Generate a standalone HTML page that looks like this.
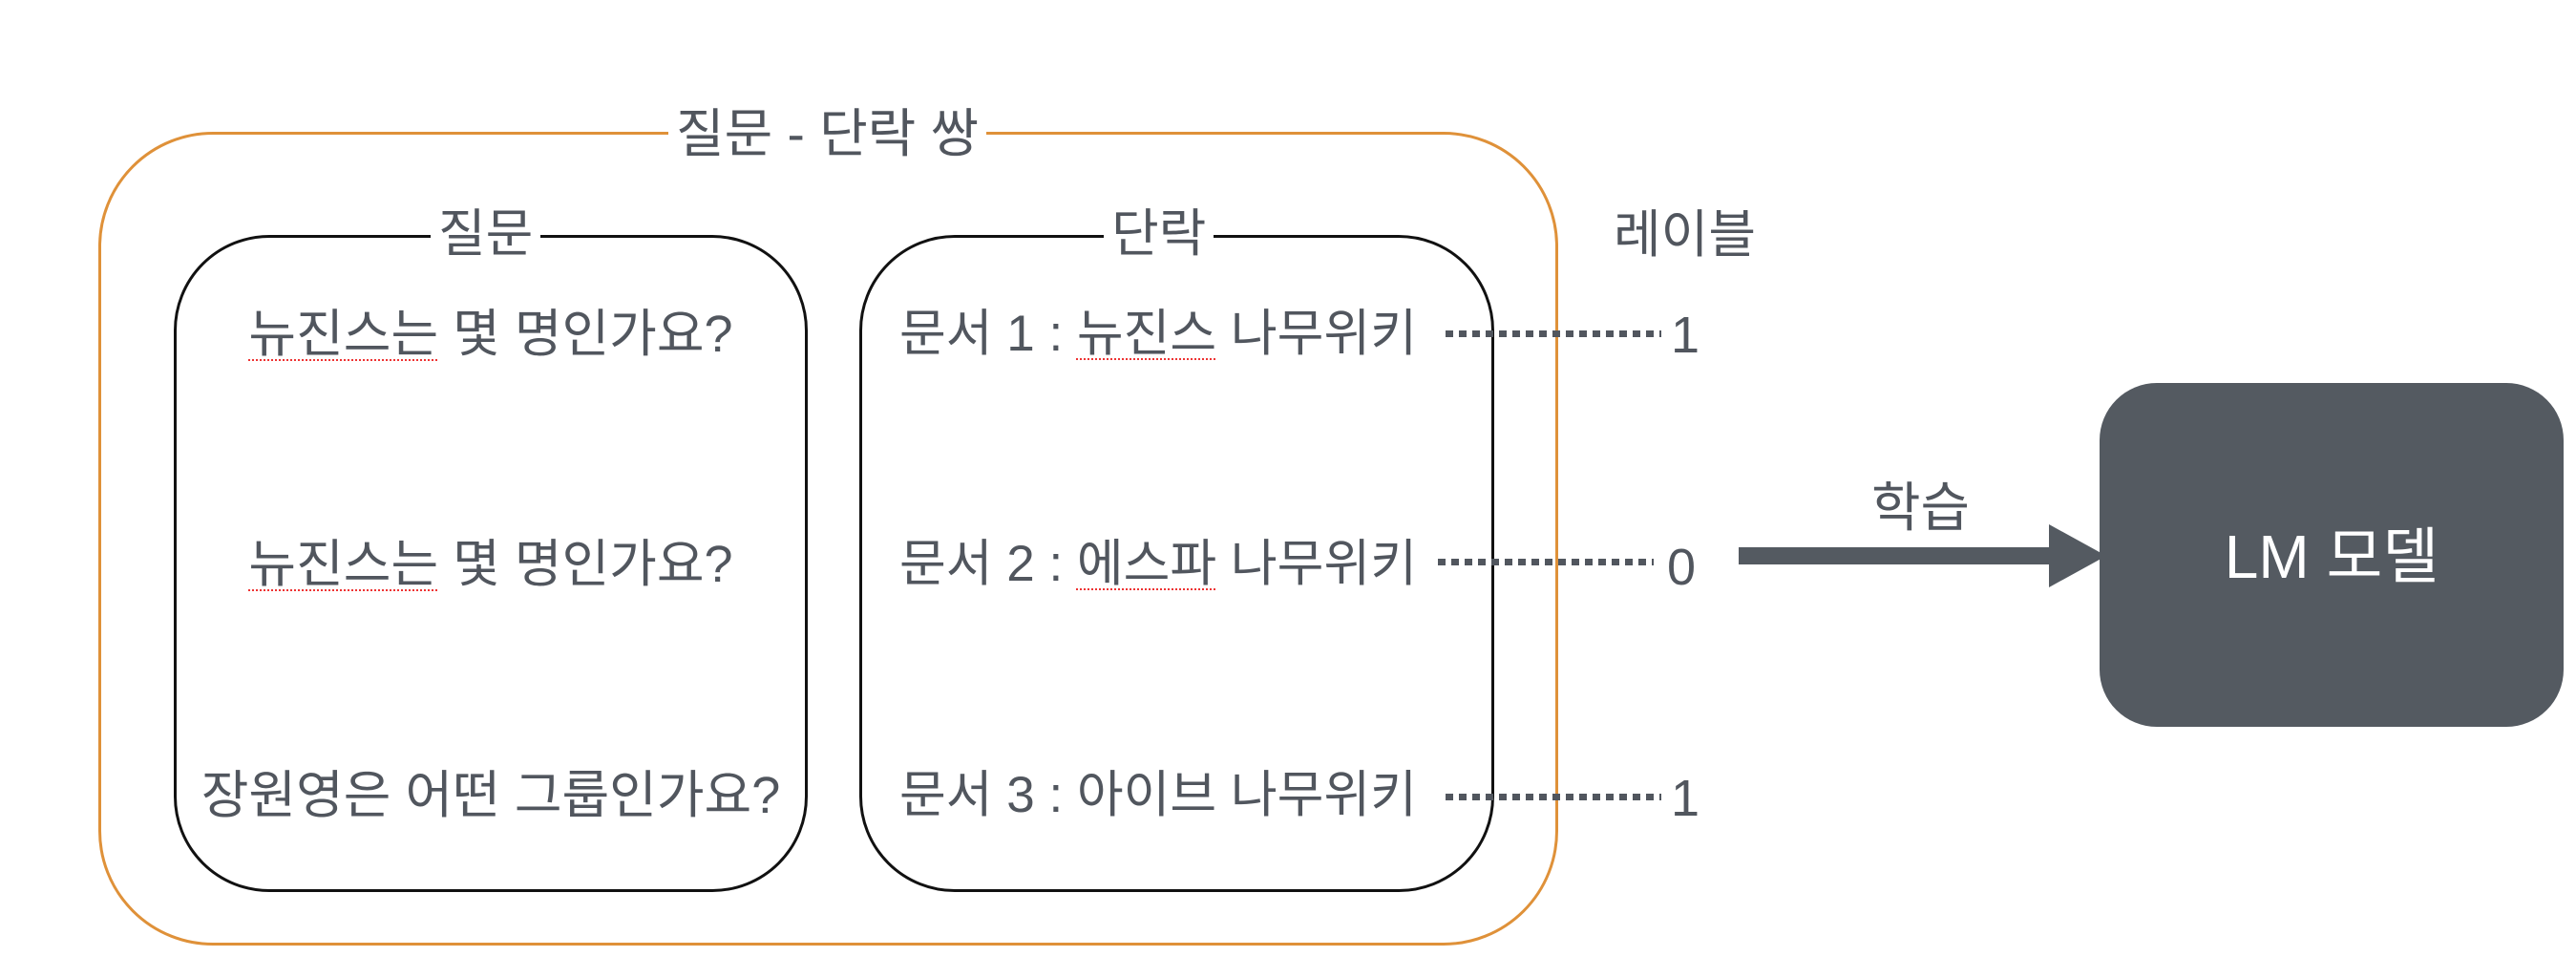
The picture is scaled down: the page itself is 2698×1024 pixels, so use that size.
<!DOCTYPE html>
<html><head><meta charset="utf-8"><style>
body{margin:0;width:2698px;height:1024px;background:#fff;position:relative;overflow:hidden;font-family:"Liberation Sans","Noto Sans CJK KR",sans-serif;color:#51565e}
.a{position:absolute;white-space:nowrap}
.box{position:absolute;box-sizing:border-box}
.c{text-align:center;line-height:60px;height:60px}
.lbl{background:#fff;padding:0 8px;font-size:54px;line-height:60px}
.u{text-decoration:underline dotted #e33;text-decoration-thickness:2px;text-underline-offset:8px}
.dot{position:absolute;height:7px;background:repeating-linear-gradient(90deg,#51565e 0 8px,transparent 8px 14px)}
</style></head><body>
<div class="box" style="left:103px;top:138px;width:1529px;height:852px;border:3px solid #df9139;border-radius:120px"></div>
<div class="box" style="left:182px;top:246px;width:664px;height:688px;border:3px solid #111;border-radius:100px"></div>
<div class="box" style="left:900px;top:246px;width:665px;height:688px;border:3px solid #111;border-radius:100px"></div>

<div class="a lbl" style="left:700px;top:110px;font-size:55px">질문 - 단락 쌍</div>
<div class="a lbl" style="left:451px;top:215px">질문</div>
<div class="a lbl" style="left:1156px;top:215px">단락</div>

<div class="a c" style="left:182px;width:664px;top:320px;font-size:54px"><span class="u">뉴진스는</span> 몇 명인가요?</div>
<div class="a c" style="left:182px;width:664px;top:561px;font-size:54px"><span class="u">뉴진스는</span> 몇 명인가요?</div>
<div class="a c" style="left:182px;width:664px;top:803px;font-size:54px">장원영은 어떤 그룹인가요?</div>

<div class="a c" style="left:942px;top:320px;font-size:53px">문서 1 : <span class="u">뉴진스</span> 나무위키</div>
<div class="a c" style="left:942px;top:561px;font-size:53px">문서 2 : <span class="u">에스파</span> 나무위키</div>
<div class="a c" style="left:942px;top:803px;font-size:53px">문서 3 : 아이브 나무위키</div>

<div class="dot" style="left:1514px;top:346px;width:226px"></div>
<div class="dot" style="left:1506px;top:585px;width:226px"></div>
<div class="dot" style="left:1514px;top:831px;width:226px"></div>

<div class="a c" style="left:1690px;top:216px;font-size:54px">레이블</div>
<div class="a c" style="left:1750px;top:321px;font-size:54px">1</div>
<div class="a c" style="left:1746px;top:564px;font-size:54px">0</div>
<div class="a c" style="left:1750px;top:806px;font-size:54px">1</div>

<div class="box" style="left:1821px;top:573px;width:330px;height:18px;background:#545a61"></div>
<svg class="a" style="left:2146px;top:549px" width="62" height="67"><polygon points="0,0 60,33 0,66" fill="#545a61"/></svg>
<div class="a c" style="left:1960px;top:502px;font-size:56px">학습</div>

<div class="box" style="left:2199px;top:401px;width:486px;height:360px;background:#545a61;border-radius:60px"></div>
<div class="a c" style="left:2199px;width:486px;top:553px;font-size:64px;color:#fff">LM 모델</div>
</body></html>
